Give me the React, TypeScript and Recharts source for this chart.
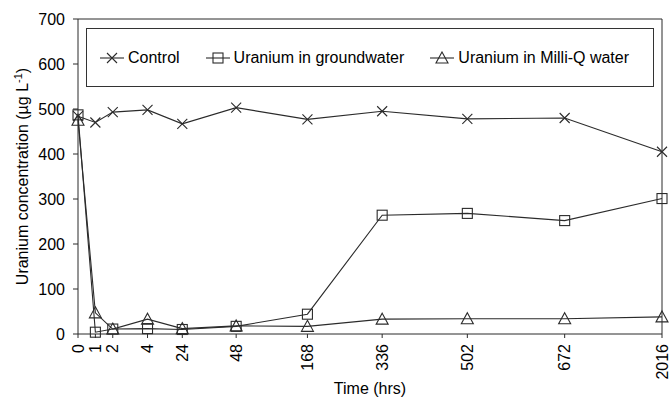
import React from "react";
import {
  LineChart, Line, XAxis, YAxis, ReferenceLine, Legend,
} from "recharts";

// sampling times (hrs) and where the original axis placed them (axis units)
const hours = ["0", "1", "2", "4", "24", "48", "168", "336", "502", "672", "2016"];
const axisUnits = [0, 1, 2, 4, 6, 9.1, 13.2, 17.5, 22.4, 28, 33.6];

const control = [484, 470, 493, 498, 467, 503, 477, 495, 478, 480, 405];
const groundwater = [487, 4, 11, 12, 10, 17, 44, 264, 268, 252, 301];
const milliQ = [475, 47, 11, 33, 12, 18, 17, 33, 34, 34, 38];

const yTicks = [0, 100, 200, 300, 400, 500, 600, 700];

const data = hours.map((h, i) => ({
  t: axisUnits[i],
  label: h,
  control: control[i],
  groundwater: groundwater[i],
  milliQ: milliQ[i],
}));

const ink = "#2b2b2b";
const textInk = "#000";
const font = "'Liberation Sans', Arial, sans-serif";

function Cross({ cx, cy }: any) {
  if (cx == null || cy == null) return null;
  const s = 5;
  return (
    <path d={`M${cx - s},${cy - s}L${cx + s},${cy + s}M${cx - s},${cy + s}L${cx + s},${cy - s}`}
      stroke={ink} strokeWidth={1.1} fill="none" />
  );
}

function Square({ cx, cy }: any) {
  if (cx == null || cy == null) return null;
  return <rect x={cx - 5} y={cy - 5} width={10} height={10} stroke={ink} strokeWidth={1.1} fill="none" />;
}

function Triangle({ cx, cy }: any) {
  if (cx == null || cy == null) return null;
  return (
    <path d={`M${cx},${cy - 6}L${cx + 6},${cy + 5}L${cx - 6},${cy + 5}Z`}
      stroke={ink} strokeWidth={1.1} fill="none" />
  );
}

function XTick({ x, y, payload }: any) {
  const idx = axisUnits.indexOf(payload.value);
  return (
    <text x={x} y={y + 4} transform={`rotate(-90 ${x} ${y + 4})`} dy="0.35em"
      textAnchor="end" fontSize={16} fill={textInk} fontFamily={font}>
      {hours[idx]}
    </text>
  );
}

const legendItems = [
  { name: "Control", Icon: Cross },
  { name: "Uranium in groundwater", Icon: Square },
  { name: "Uranium in Milli-Q water", Icon: Triangle },
];

function LegendBox() {
  return (
    <div style={{
      width: 568, height: 59, border: "1.2px solid #333", boxSizing: "border-box",
      display: "flex", alignItems: "center", paddingLeft: 13, gap: 26,
      fontFamily: font, fontSize: 16, color: textInk,
    }}>
      {legendItems.map(({ name, Icon }) => (
        <div key={name} style={{ display: "flex", alignItems: "center" }}>
          <svg width={24} height={14} style={{ marginRight: 4 }}>
            <line x1={0} y1={7} x2={24} y2={7} stroke={ink} strokeWidth={1.1} />
            <Icon cx={12} cy={7} />
          </svg>
          <span>{name}</span>
        </div>
      ))}
    </div>
  );
}

export default function App() {
  return (
    <div style={{ position: "absolute", left: 0, top: 0, width: 672, height: 401, background: "#fff" }}>
      <LineChart width={672} height={401} data={data}
        margin={{ top: 19, right: 10, bottom: 17, left: 0 }}>
        <XAxis dataKey="t" type="number" domain={[0, 33.6]} ticks={axisUnits}
          tick={<XTick />} tickSize={4} height={50} interval={0}
          axisLine={{ stroke: ink }} tickLine={{ stroke: ink }}
          label={({ viewBox }: any) => (
            <text x={viewBox.x + viewBox.width / 2} y={394} textAnchor="middle"
              fontSize={16} fill={textInk} fontFamily={font}>Time (hrs)</text>
          )} />
        <YAxis type="number" domain={[0, 700]} ticks={yTicks} width={78} tickSize={5} tickMargin={8}
          tick={{ fill: textInk, fontSize: 16, fontFamily: font }}
          axisLine={{ stroke: ink }} tickLine={{ stroke: ink }}
          label={({ viewBox }: any) => {
            const cy = viewBox.y + viewBox.height / 2;
            return (
              <text x={22} y={cy} transform={`rotate(-90 22 ${cy})`} textAnchor="middle"
                dy="0.35em" fontSize={16} fill={textInk} fontFamily={font}>
                Uranium concentration (µg L<tspan dy="-6" fontSize={11}>-1</tspan><tspan dy="6">)</tspan>
              </text>
            );
          }} />
        <ReferenceLine y={700} stroke={ink} strokeWidth={1} ifOverflow="extendDomain" />
        <ReferenceLine x={33.6} stroke={ink} strokeWidth={1} ifOverflow="extendDomain" />
        <Legend layout="horizontal" verticalAlign="middle" align="center"
          wrapperStyle={{ position: "absolute", left: 86, top: 28, width: 568, height: 59 }}
          content={() => <LegendBox />} />
        <Line dataKey="control" stroke={ink} strokeWidth={1.1} type="linear"
          dot={(p: any) => <Cross key={`c${p.index}`} {...p} />} isAnimationActive={false} />
        <Line dataKey="groundwater" stroke={ink} strokeWidth={1.1} type="linear"
          dot={(p: any) => <Square key={`g${p.index}`} {...p} />} isAnimationActive={false} />
        <Line dataKey="milliQ" stroke={ink} strokeWidth={1.1} type="linear"
          dot={(p: any) => <Triangle key={`m${p.index}`} {...p} />} isAnimationActive={false} />
      </LineChart>
    </div>
  );
}
